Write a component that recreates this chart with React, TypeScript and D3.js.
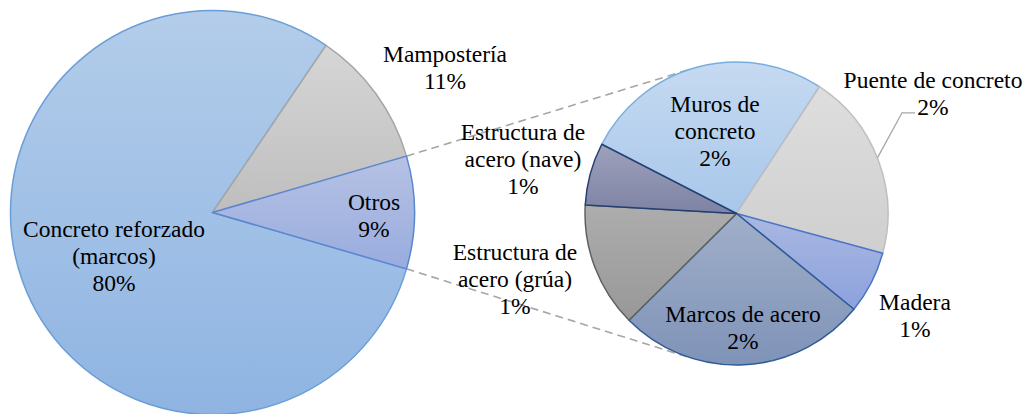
import React from "react";
import * as d3 from "d3";

// ---- Data ----
const mainCategories = ["Concreto reforzado (marcos)", "Mampostería", "Otros"];
const mainValues = [0.80, 0.11, 0.09];
const mainLabels = [["Concreto reforzado", "(marcos)", "80%"], ["Mampostería", "11%"], ["Otros", "9%"]];

const subCategories = [
  "Muros de concreto",
  "Puente de concreto",
  "Madera",
  "Marcos de acero",
  "Estructura de acero (grúa)",
  "Estructura de acero (nave)",
];
const subValues = [0.024, 0.018, 0.006, 0.024, 0.012, 0.006];
const subLabels = [
  ["Muros de", "concreto", "2%"],
  ["Puente de concreto", "2%"],
  ["Madera", "1%"],
  ["Marcos de acero", "2%"],
  ["Estructura de", "acero (grúa)", "1%"],
  ["Estructura de", "acero (nave)", "1%"],
];

// ---- Styles ----
const mainFills = [["#b3cdea", "#8fb4e2"], ["#d6d6d6", "#bebebe"], ["#b6c2e4", "#99acde"]];
const mainStrokes = ["#6a9ed8", "#a6a6a6", "#5b86d0"];
const subFills = [
  ["#c6daf1", "#a8c7ea"],
  ["#dedede", "#cfcfcf"],
  ["#aab8e1", "#8ca2de"],
  ["#a0afc9", "#7f93b8"],
  ["#adadad", "#989898"],
  ["#9ea1bb", "#7d83a5"],
];
const subStrokes = ["#77aee0", "#bfbfbf", "#4a74c8", "#2f5a95", "#606060", "#253f73"];

// label placement (center x, first baseline y) in px
const mainLabelPos = [[114, 237], [445, 62], [374, 210]];
const subLabelPos = [[715, 112], [933, 88], [915, 310], [743, 322], [515, 260], [523, 140]];
const FONT = 23.5;
const LINE = 26.8;
const SERIF = "Liberation Serif";

const deg = Math.PI / 180;

export default function App() {
  const W = 1031, H = 414;
  const c1 = { x: 212.5, y: 212.5, r: 202 };
  const c2 = { x: 736.5, y: 213.5, r: 151.5 };

  const mainPie = d3.pie<number>().sort(null).value((d) => d)
    .startAngle(106.2 * deg).endAngle(106.2 * deg + 2 * Math.PI);
  const subPie = d3.pie<number>().sort(null).value((d) => d)
    .startAngle(-62.8 * deg).endAngle(-62.8 * deg + 2 * Math.PI);
  const arc1 = d3.arc<d3.PieArcDatum<number>>().innerRadius(0).outerRadius(c1.r);
  const arc2 = d3.arc<d3.PieArcDatum<number>>().innerRadius(0).outerRadius(c2.r);

  const mainArcs = mainPie(mainValues);
  const subArcs = subPie(subValues);

  // connector lines from "Otros" edges, tangent to secondary pie
  const otros = mainArcs[2];
  const edge = (a: number) => ({ x: c1.x + c1.r * Math.sin(a), y: c1.y - c1.r * Math.cos(a) });
  const pTop = edge(otros.startAngle);
  const pBot = edge(otros.endAngle);
  const tangent = (p: { x: number; y: number }, sign: number) => {
    const dx = c2.x - p.x, dy = c2.y - p.y;
    const d = Math.hypot(dx, dy);
    const base = Math.atan2(dy, dx);
    const off = Math.asin(c2.r / d);
    const len = Math.sqrt(d * d - c2.r * c2.r);
    const ang = base + sign * off;
    return { x: p.x + len * Math.cos(ang), y: p.y + len * Math.sin(ang) };
  };
  const tTop = tangent(pTop, -1);
  const tBot = tangent(pBot, 1);

  // leader line for Puente de concreto
  const puente = subArcs[1];
  const pa = puente.startAngle + (puente.endAngle - puente.startAngle) * 0.49;
  const leadStart = { x: c2.x + c2.r * Math.sin(pa), y: c2.y - c2.r * Math.cos(pa) };

  const renderLabel = (lines: string[], pos: number[], key: string) =>
    lines.map((l, i) => (
      <text key={key + "_" + i} x={pos[0]} y={pos[1] + i * LINE} textAnchor="middle"
        style={{ fontFamily: SERIF, fontSize: FONT }} fill="#000">
        {l}
      </text>
    ));

  return (
    <svg width={W} height={H} style={{ position: "absolute", left: 0, top: 0, background: "#fff" }}>
      <defs>
        {mainFills.map((f, i) => (
          <linearGradient key={"mg" + i} id={"mg" + i} x1="0" y1="0" x2="0" y2="1">
            <stop offset="0%" stopColor={f[0]} />
            <stop offset="100%" stopColor={f[1]} />
          </linearGradient>
        ))}
        {subFills.map((f, i) => (
          <linearGradient key={"sg" + i} id={"sg" + i} x1="0" y1="0" x2="0" y2="1">
            <stop offset="0%" stopColor={f[0]} />
            <stop offset="100%" stopColor={f[1]} />
          </linearGradient>
        ))}
      </defs>
      <rect x={0} y={0} width={W} height={H} fill="#fff" />

      <line x1={pTop.x} y1={pTop.y} x2={tTop.x} y2={tTop.y} stroke="#a6a6a6" strokeWidth={1.6} strokeDasharray="8,5" />
      <line x1={pBot.x} y1={pBot.y} x2={tBot.x} y2={tBot.y} stroke="#a6a6a6" strokeWidth={1.6} strokeDasharray="8,5" />

      <g transform={`translate(${c1.x},${c1.y})`}>
        {mainArcs.map((a, i) => (
          <path key={mainCategories[i]} d={arc1(a) || ""} fill={`url(#mg${i})`} stroke={mainStrokes[i]} strokeWidth={1.5} strokeLinejoin="round" />
        ))}
      </g>
      <g transform={`translate(${c2.x},${c2.y})`}>
        {subArcs.map((a, i) => (
          <path key={subCategories[i]} d={arc2(a) || ""} fill={`url(#sg${i})`} stroke={subStrokes[i]} strokeWidth={1.5} strokeLinejoin="round" />
        ))}
      </g>

      <polyline
        points={`${leadStart.x},${leadStart.y} ${subLabelPos[1][0] - 31},${subLabelPos[1][1] + LINE - 2} ${subLabelPos[1][0] - 18},${subLabelPos[1][1] + LINE - 2}`}
        fill="none" stroke="#a6a6a6" strokeWidth={1.3} />

      {mainLabels.map((l, i) => renderLabel(l, mainLabelPos[i], "ml" + i))}
      {subLabels.map((l, i) => renderLabel(l, subLabelPos[i], "sl" + i))}
    </svg>
  );
}
